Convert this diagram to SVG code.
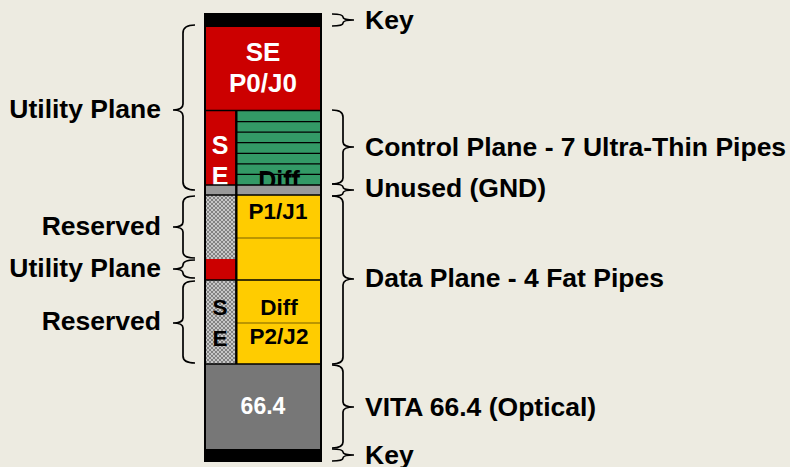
<svg xmlns="http://www.w3.org/2000/svg" width="790" height="467" viewBox="0 0 790 467">
<style>
.lbl{font-family:"Liberation Sans",Arial,sans-serif;font-weight:bold;font-size:26.5px;fill:#000}
.cl{font-family:"Liberation Sans",Arial,sans-serif;font-weight:bold;text-anchor:middle}
.w{fill:#fff}
.k{fill:#000}
.br{fill:none;stroke:#000;stroke-width:1.7}
.ln{stroke:#000;stroke-width:1.2}
</style>
<defs>
<pattern id="hatch" width="4" height="4" patternUnits="userSpaceOnUse">
<rect width="4" height="4" fill="#c6c6c6"/>
<path d="M0,0 L4,4 M4,0 L0,4" stroke="#707070" stroke-width="0.8"/>
</pattern>
</defs>
<rect width="790" height="467" fill="#EDEBE1"/>

<g id="connector-column">
<g id="key-top"><rect x="204" y="14" width="118" height="13" fill="#000"/></g>
<g id="se-p0j0">
<rect x="205" y="27" width="116" height="83" fill="#CC0000"/>
<text class="cl w" x="263" y="61" font-size="26">SE</text>
<text class="cl w" x="263" y="92" font-size="26">P0/J0</text>
</g>
<g id="se-control">
<rect x="205" y="111" width="31" height="74" fill="#CC0000"/>
<text class="cl w" x="220" y="154" font-size="25">S</text>
<text class="cl w" x="220" y="185" font-size="25">E</text>
</g>
<g id="control-pipes">
<rect x="237" y="111" width="84" height="74" fill="#339966"/>
<path class="ln" d="M237,121.6H321M237,132.1H321M237,142.7H321M237,153.3H321M237,163.9H321M237,174.4H321"/>
<text class="cl k" x="279" y="189" font-size="25">Diff</text>
</g>
<g id="unused-gnd">
<rect x="205" y="185" width="116" height="10" fill="#999999"/>
</g>
<g id="reserved-1"><rect x="205" y="195" width="31" height="64" fill="url(#hatch)"/></g>
<g id="utility-small"><rect x="205" y="259" width="31" height="21" fill="#CC0000"/></g>
<g id="p1j1">
<rect x="237" y="195" width="84" height="85" fill="#FFCC00"/>
<line x1="237" y1="238" x2="321" y2="238" stroke="#7a6000" stroke-width="1.2"/>
<text class="cl k" x="278" y="219" font-size="22.5">P1/J1</text>
</g>
<g id="reserved-2">
<rect x="205" y="280" width="31" height="84" fill="url(#hatch)"/>
<text class="cl k" x="220" y="315" font-size="22.5">S</text>
<text class="cl k" x="220" y="346" font-size="22.5">E</text>
</g>
<g id="p2j2">
<rect x="237" y="280" width="84" height="84" fill="#FFCC00"/>
<line x1="237" y1="323" x2="321" y2="323" stroke="#7a6000" stroke-width="1.2"/>
<text class="cl k" x="279" y="315" font-size="22.5">Diff</text>
<text class="cl k" x="279" y="344" font-size="22.5">P2/J2</text>
</g>
<g id="vita-66-4">
<rect x="205" y="364" width="116" height="85" fill="#777777"/>
<text class="cl w" x="263" y="414" font-size="23">66.4</text>
</g>
<g id="key-bottom"><rect x="204" y="449" width="118" height="12" fill="#000"/></g>
<path d="M204,110.5H322M204,185H322M204,195H322M204,280H322M204,364H322" stroke="#000" stroke-width="1.6"/>
<line x1="236.3" y1="110" x2="236.3" y2="364" stroke="#000" stroke-width="2.4"/>
<rect x="205" y="14" width="116" height="447" fill="none" stroke="#000" stroke-width="2"/>
</g>

<g id="connectors">
<path class="br" d="M195,25 Q183,25 183,33 L183,104 Q183,110 173,110 Q183,110 183,116 L183,182 Q183,190 195,190"/>
<path class="br" d="M195,196 Q183,196 183,203 L183,222 Q183,227 173,227 Q183,227 183,232 L183,252 Q183,258 195,258"/>
<path class="br" d="M195,260 Q183,260 183,265 Q183,269 173,269 Q183,269 183,273 Q183,278 195,278"/>
<path class="br" d="M195,281 Q183,281 183,288 L183,318 Q183,323 173,323 Q183,323 183,328 L183,356 Q183,363 195,363"/>

<path class="br" d="M332,14 Q343,14 343,17 Q343,20 354,20 Q343,20 343,23 Q343,26 332,26"/>
<path class="br" d="M332,110 Q343,110 343,117 L343,142 Q343,147 354,147 Q343,147 343,152 L343,178 Q343,184 332,184"/>
<path class="br" d="M332,184 Q343,184 343,187 Q343,190 354,190 Q343,190 343,193 Q343,196 332,196"/>
<path class="br" d="M332,196 Q343,196 343,203 L343,273 Q343,279 354,279 Q343,279 343,285 L343,357 Q343,364 332,364"/>
<path class="br" d="M332,365 Q343,365 343,372 L343,402 Q343,407 354,407 Q343,407 343,412 L343,442 Q343,448 332,448"/>
<path class="br" d="M332,449 Q343,449 343,452 Q343,455 354,455 Q343,455 343,458 Q343,461 332,461"/>
</g>

<g id="labels">
<text class="lbl" x="365" y="29">Key</text>
<text class="lbl" x="365" y="156">Control Plane - 7 Ultra-Thin Pipes</text>
<text class="lbl" x="365" y="197">Unused (GND)</text>
<text class="lbl" x="365" y="287">Data Plane - 4 Fat Pipes</text>
<text class="lbl" x="365" y="416">VITA 66.4 (Optical)</text>
<text class="lbl" x="365" y="464">Key</text>
<text class="lbl" x="161" y="118" text-anchor="end">Utility Plane</text>
<text class="lbl" x="161" y="235" text-anchor="end">Reserved</text>
<text class="lbl" x="161" y="277" text-anchor="end">Utility Plane</text>
<text class="lbl" x="161" y="330" text-anchor="end">Reserved</text>
</g>
</svg>
